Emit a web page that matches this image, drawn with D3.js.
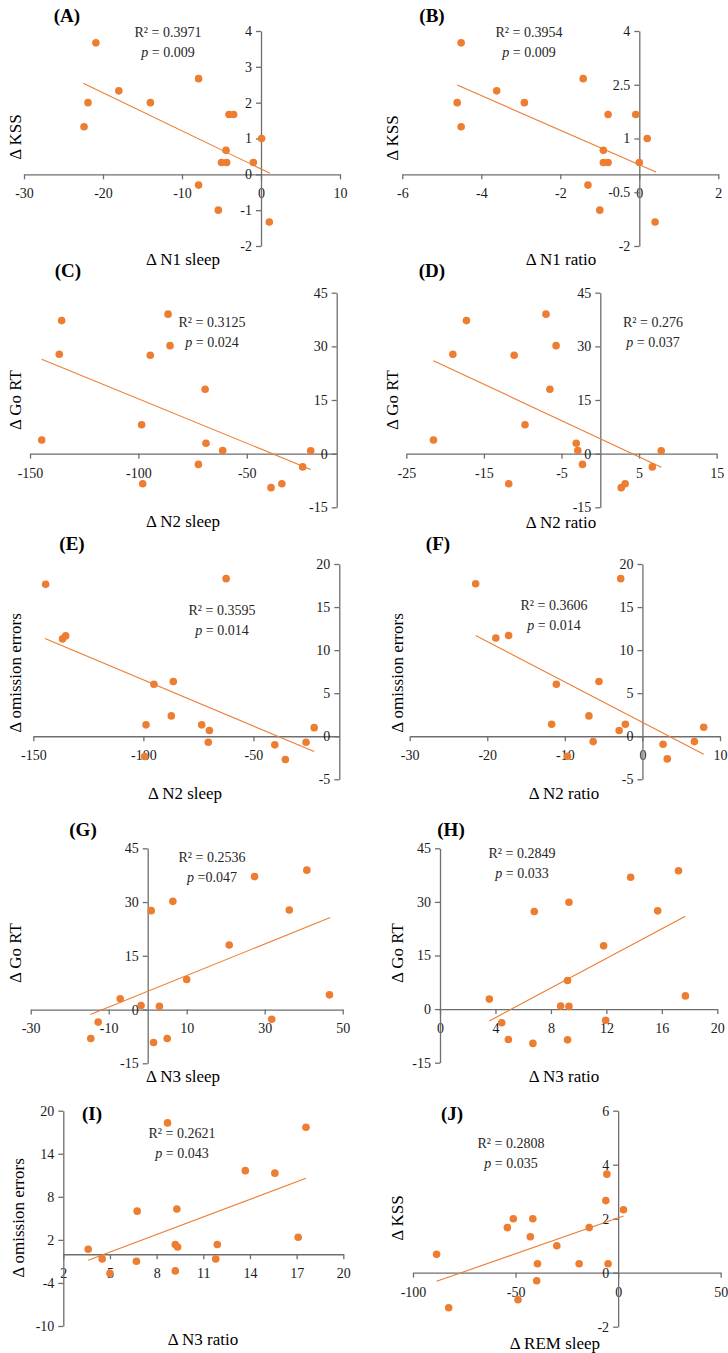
<!DOCTYPE html>
<html>
<head>
<meta charset="utf-8">
<script src="https://cdn.jsdelivr.net/npm/d3@7"></script>
<style>
  body { margin:0; background:#fff; }
  svg { display:block; }
  svg text { font-family:"Liberation Serif","Times New Roman",serif; }
  .tick line, .domain { stroke:#6e6e6e; stroke-width:1.3; }
  .ttl { font-size:17px; fill:#000; }
  .stat { font-size:14px; fill:#262626; }
  .tag { font-size:19px; font-weight:bold; fill:#000; }
</style>
</head>
<body>
<div id="canvas"></div>
<script>
// values (16 subjects per panel)

// (A) N1 sleep vs KSS
var aX = [-20.9,-21.9,-22.4,-18.0,-14.0,-7.9,-4.05,-3.46,0.08,-4.43,-5.0,-4.35,-0.97,-7.9,-5.4,1.05];
var aY = [3.67,2.0,1.33,2.33,2.0,2.67,1.67,1.67,1.0,0.67,0.33,0.33,0.33,-0.3,-1.0,-1.33];
var aFit = [[-22.5,2.54],[1.14,0.03]];
var aXTicks = [-30,-20,-10,0,10], aYTicks = [-2,-1,0,1,2,3,4];

// (B) N1 ratio vs KSS
var bX = [-4.51,-4.61,-4.51,-3.61,-2.91,-1.42,-0.79,-0.09,0.2,-0.91,-0.91,-0.79,0.0,-1.3,-1.0,0.4];
var bY = [3.67,2.0,1.33,2.33,2.0,2.67,1.67,1.67,1.0,0.67,0.33,0.33,0.33,-0.3,-1.0,-1.33];
var bFit = [[-4.61,2.49],[0.42,0.065]];
var bXTicks = [-6,-4,-2,0,2], bYTicks = [-2,-0.5,1,2.5,4];

// (C) N2 sleep vs Go RT
var cX = [-135.4,-136.5,-144.6,-86.3,-85.4,-94.5,-69.2,-98.5,-68.8,-61.1,-72.3,-98.0,-38.8,-33.8,-24.2,-20.5];
var cY = [37.2,27.8,3.8,39.0,30.2,27.5,18.0,8.1,2.9,0.9,-3.0,-8.4,-9.5,-8.4,-3.7,0.8];
var cFit = [[-144.6,26.4],[-20.5,-4.4]];
var cXTicks = [-150,-100,-50], cYTicks = [-15,0,15,30,45];

// (D) N2 ratio vs Go RT
var dX = [-17.25,-19.0,-21.5,-7.0,-5.7,-11.1,-6.5,-9.7,-3.1,-2.9,-2.3,-11.8,2.7,3.2,6.7,7.85];
var dY = [37.2,27.8,3.8,39.0,30.2,27.5,18.0,8.1,2.9,0.9,-3.0,-8.4,-9.5,-8.4,-3.7,0.8];
var dFit = [[-21.5,26.0],[7.85,-3.8]];
var dXTicks = [-25,-15,-5,5,15], dYTicks = [-15,0,15,30,45];

// (E) N2 sleep vs omission errors
var eX = [-144.4,-62.4,-136.7,-135.3,-95.2,-86.4,-87.3,-98.8,-73.5,-70.0,-70.5,-99.4,-40.3,-35.5,-26.1,-22.4];
var eY = [17.65,18.3,11.3,11.65,6.04,6.35,2.36,1.32,1.32,0.66,-0.7,-2.36,-1.0,-2.7,-0.7,1.0];
var eFit = [[-144.7,11.34],[-22.4,-1.78]];
var eXTicks = [-150,-100,-50], eYTicks = [-5,0,5,10,15,20];

// (F) N2 ratio vs omission errors
var fX = [-21.5,-2.8,-18.9,-17.25,-11.1,-5.6,-6.9,-11.7,-2.2,-3.0,-6.35,-9.66,2.66,3.2,6.7,7.9];
var fY = [17.7,18.3,11.4,11.7,6.04,6.35,2.36,1.39,1.39,0.66,-0.62,-2.32,-0.93,-2.63,-0.62,1.04];
var fFit = [[-21.5,11.69],[7.9,-2.09]];
var fXTicks = [-30,-20,-10,0,10], fYTicks = [-5,0,5,10,15,20];

// (G) N3 sleep vs Go RT
var gX = [40.8,27.4,6.45,0.9,36.3,20.9,10.0,46.6,-7.05,-1.7,3.0,-12.7,31.8,-14.6,1.5,5.0];
var gY = [38.9,37.1,30.2,27.6,27.8,18.0,8.4,4.1,3.0,1.1,0.9,-3.5,-2.7,-8.1,-9.2,-8.1];
var gFit = [[-14.7,-1.4],[46.8,25.7]];
var gXTicks = [-30,-10,10,30,50], gYTicks = [-15,0,15,30,45];

// (H) N3 ratio vs Go RT
var hX = [17.2,13.75,9.3,6.8,15.7,11.8,9.2,17.7,3.56,8.7,9.3,4.45,11.95,4.93,6.7,9.2];
var hY = [38.7,36.9,29.9,27.3,27.5,17.7,8.0,3.7,2.8,0.84,0.75,-3.8,-3.1,-8.5,-9.6,-8.6];
var hFit = [[3.56,-3.3],[17.7,26.0]];
var hXTicks = [0,4,8,12,16,20], hYTicks = [-15,0,15,30,45];

// (I) N3 ratio vs omission errors
var iX = [8.7,17.6,13.7,15.6,6.75,9.3,17.1,3.6,9.2,9.35,11.9,4.5,6.7,11.8,5.0,9.2];
var iY = [18.3,17.7,11.65,11.3,6.0,6.3,2.37,0.7,1.35,1.0,1.35,-0.65,-0.97,-0.65,-2.65,-2.32];
var iFit = [[3.6,-0.84],[17.6,10.58]];
var iXTicks = [2,5,8,11,14,17,20], iYTicks = [-10,-4,2,8,14,20];

// (J) REM sleep vs KSS
var jX = [-5.5,-6.0,2.6,-51.1,-41.6,-54.0,-14.1,-42.8,-29.9,-88.5,-39.3,-19.0,-4.9,-39.7,-48.8,-82.6];
var jY = [3.65,2.67,2.33,2.0,2.0,1.67,1.67,1.33,1.0,0.68,0.33,0.33,0.33,-0.3,-1.0,-1.3];
var jFit = [[-88.5,-0.32],[2.6,2.1]];
var jXTicks = [-100,-50,0,50], jYTicks = [-2,0,2,4,6];

var tags = ['(A)','(B)','(C)','(D)','(E)','(F)','(G)','(H)','(I)','(J)'];
var xTitles = ['\u0394 N1 sleep','\u0394  N1 ratio','\u0394 N2 sleep','\u0394 N2 ratio','\u0394 N2 sleep',
               '\u0394 N2 ratio','\u0394 N3 sleep','\u0394 N3 ratio','\u0394 N3 ratio','\u0394 REM sleep'];
var yTitles = ['\u0394 KSS','\u0394 KSS','\u0394 Go RT','\u0394 Go RT','\u0394 omission errors',
               '\u0394 omission errors','\u0394 Go RT','\u0394 Go RT','\u0394 omission errors','\u0394 KSS'];
var r2Labels = ['0.3971','0.3954','0.3125','0.276','0.3595','0.3606','0.2536','0.2849','0.2621','0.2808'];
var pLabels = ['= 0.009','= 0.009','= 0.024','= 0.037','= 0.014','= 0.014','=0.047','= 0.033','= 0.043','= 0.035'];

// layout of each panel, in page pixels
// xd/yd = axis bounds, xr/yr = pixel ranges, cross = where the y axis sits
var layout = [
  {xd:[-30,10],   xr:[24,340],      yd:[-2,4],   yr:[246,31],       cross:0,    tag:[67,15],   st:[168,32],  xt:[183,259],  yt:[15,137]},
  {xd:[-6,2],     xr:[402.3,718.3], yd:[-2,4],   yr:[246,31],       cross:0,    tag:[432,15],  st:[529,32],  xt:[561,259],  yt:[392,138]},
  {xd:[-150,-8.5],xr:[30,336.7],    yd:[-15,45], yr:[507.3,292.7],  cross:-8.5, tag:[68,270],  st:[212,322], xt:[183,521],  yt:[15,400]},
  {xd:[-25,15],   xr:[406.3,716.7], yd:[-15,45], yr:[507.3,292.7],  cross:0,    tag:[432,270], st:[653,322], xt:[561,522],  yt:[392,400]},
  {xd:[-150,-11], xr:[33.3,339.3],  yd:[-5,20],  yr:[779.3,564],    cross:-11,  tag:[72,543],  st:[222,610], xt:[185,793],  yt:[15,673]},
  {xd:[-30,10],   xr:[409.7,720],   yd:[-5,20],  yr:[779.3,564],    cross:0,    tag:[438,543], st:[554,605], xt:[564,793],  yt:[397,673]},
  {xd:[-30,50],   xr:[30.7,342.7],  yd:[-15,45], yr:[1063.3,848.3], cross:0,    tag:[83,829],  st:[212,857], xt:[183,1076], yt:[15,953]},
  {xd:[0,20],     xr:[440,717.3],   yd:[-15,45], yr:[1062.7,848.3], cross:0,    tag:[451,829], st:[522,853], xt:[564,1076], yt:[397,953]},
  {xd:[2,20],     xr:[63.3,343.3],  yd:[-10,20], yr:[1326,1110.7],  cross:2,    tag:[92,1113], st:[182,1133],xt:[203,1339], yt:[18,1218]},
  {xd:[-100,50],  xr:[413,720.7],   yd:[-2,6],   yr:[1326.7,1110.7],cross:0,    tag:[452,1113],st:[511,1143],xt:[555,1343], yt:[397,1218]}
];

var xs = [aX,bX,cX,dX,eX,fX,gX,hX,iX,jX],
    ys = [aY,bY,cY,dY,eY,fY,gY,hY,iY,jY],
    fits = [aFit,bFit,cFit,dFit,eFit,fFit,gFit,hFit,iFit,jFit],
    xTicks = [aXTicks,bXTicks,cXTicks,dXTicks,eXTicks,fXTicks,gXTicks,hXTicks,iXTicks,jXTicks],
    yTicks = [aYTicks,bYTicks,cYTicks,dYTicks,eYTicks,fYTicks,gYTicks,hYTicks,iYTicks,jYTicks];

var orange = '#ED7D31';
var serif = '"Liberation Serif","Times New Roman",serif';

var svg = d3.select('#canvas')
    .append('svg')
    .attr('width', 728)
    .attr('height', 1353);

// d3 axes put sans-serif 10px on the group, swap it for the figure's font
function styleAxis(sel){
    sel.attr('font-family', null).attr('font-size', null);
    sel.selectAll('.tick text')
        .style('font-family', serif)
        .style('font-size', '14px')
        .style('fill', '#1a1a1a');
}

layout.forEach(function(L, k){
    var x = d3.scaleLinear().domain(L.xd).range(L.xr),
        y = d3.scaleLinear().domain(L.yd).range(L.yr);
    var g = svg.append('g').attr('class','panel');

    // axes cross at y = 0 and x = L.cross
    g.append('g')
        .attr('transform','translate(0,' + y(0) + ')')
        .call(d3.axisBottom(x).tickValues(xTicks[k]).tickSize(5).tickSizeOuter(0).tickPadding(9)
            .tickFormat(function(d){ return String(d); }))
        .call(styleAxis);

    g.append('g')
        .attr('transform','translate(' + x(L.cross) + ',0)')
        .call(d3.axisLeft(y).tickValues(yTicks[k]).tickSize(5).tickSizeOuter(0).tickPadding(4)
            .tickFormat(function(d){ return String(d); }))
        .call(styleAxis);

    // trend line
    g.append('line')
        .attr('x1', x(fits[k][0][0])).attr('y1', y(fits[k][0][1]))
        .attr('x2', x(fits[k][1][0])).attr('y2', y(fits[k][1][1]))
        .attr('stroke', orange).attr('stroke-width', 1.1);

    g.selectAll('.dot')
        .data(d3.range(xs[k].length))
        .enter()
        .append('circle').attr('class','dot')
        .attr('cx', function(i){ return x(xs[k][i]); })
        .attr('cy', function(i){ return y(ys[k][i]); })
        .attr('r', 3.8)
        .style('fill', orange);

    g.append('text').attr('class','tag')
        .attr('x', L.tag[0]).attr('y', L.tag[1]).attr('dy','0.35em')
        .attr('text-anchor','middle').text(tags[k]);

    var r2 = g.append('text').attr('class','stat')
        .attr('x', L.st[0]).attr('y', L.st[1]).attr('dy','0.35em')
        .attr('text-anchor','middle');
    r2.append('tspan').text('R\u00B2 = ' + r2Labels[k]);

    var p = g.append('text').attr('class','stat')
        .attr('x', L.st[0]).attr('y', L.st[1] + 20).attr('dy','0.35em')
        .attr('text-anchor','middle');
    p.append('tspan').style('font-style','italic').text('p');
    p.append('tspan').text(' ' + pLabels[k]);

    g.append('text').attr('class','ttl')
        .attr('x', L.xt[0]).attr('y', L.xt[1]).attr('dy','0.35em')
        .attr('text-anchor','middle').text(xTitles[k]);

    g.append('text').attr('class','ttl')
        .attr('transform','translate(' + L.yt[0] + ',' + L.yt[1] + ') rotate(-90)')
        .attr('dy','0.35em')
        .attr('text-anchor','middle').text(yTitles[k]);
});
</script>
</body>
</html>
